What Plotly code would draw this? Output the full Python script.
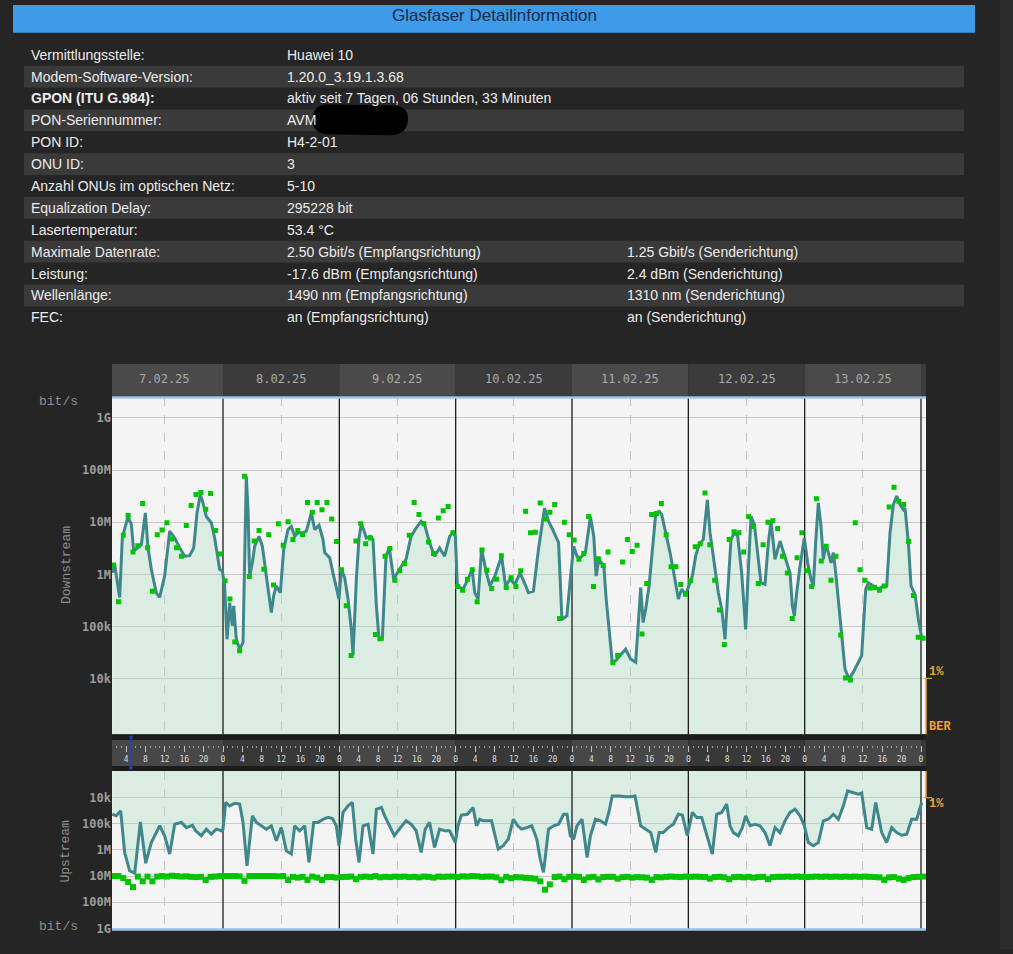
import plotly.graph_objects as go

#%% Data

info_labels = [
    "Vermittlungsstelle:", "Modem-Software-Version:", "<b>GPON (ITU G.984):</b>",
    "PON-Seriennummer:", "PON ID:", "ONU ID:", "Anzahl ONUs im optischen Netz:",
    "Equalization Delay:", "Lasertemperatur:", "Maximale Datenrate:", "Leistung:",
    "Wellenlänge:", "FEC:",
]
info_rx = [
    "Huawei 10", "1.20.0_3.19.1.3.68", "aktiv seit 7 Tagen, 06 Stunden, 33 Minuten",
    "AVM", "H4-2-01", "3", "5-10", "295228 bit", "53.4 °C",
    "2.50 Gbit/s (Empfangsrichtung)", "-17.6 dBm (Empfangsrichtung)",
    "1490 nm (Empfangsrichtung)", "an (Empfangsrichtung)",
]
info_tx = [
    "", "", "", "", "", "", "", "", "",
    "1.25 Gbit/s (Senderichtung)", "2.4 dBm (Senderichtung)",
    "1310 nm (Senderichtung)", "an (Senderichtung)",
]

day_labels = ["7.02.25", "8.02.25", "9.02.25", "10.02.25", "11.02.25", "12.02.25", "13.02.25"]
day_starts = [0, 24, 48, 72, 96, 120, 144]   # hours since 7.02.25 00:00
view_start, view_end = 1.1, 169.03

rate_tickvals = [1e4, 1e5, 1e6, 1e7, 1e8, 1e9]
rate_ticktext = ["10k", "100k", "1M", "10M", "100M", "1G"]

# hourly samples (peak values, green squares), first one at 01:26
sample_start = 1.43

# downstream average (teal line): hour, log10(bit/s)
ds_line_hours = [
    1.17, 1.65, 2.68, 3.23, 4.40, 5.09, 5.57, 6.46, 7.15, 7.98, 8.53, 9.21, 10.24, 10.93,
    11.96, 13.00, 14.03, 15.06, 16.09, 17.12, 17.95, 18.64, 19.32, 19.87, 20.56, 21.59,
    22.28, 22.76, 23.31, 23.86, 24.34, 24.83, 25.38, 25.93, 26.20, 26.75, 27.44, 28.13,
    28.47, 28.81, 29.16, 29.50, 30.05, 30.53, 31.43, 32.12, 32.94, 33.97, 34.45, 35.00,
    35.83, 36.52, 37.41, 38.10, 38.79, 39.47, 40.51, 41.19, 42.23, 42.91, 43.81, 44.63,
    44.98, 46.01, 46.83, 47.38, 47.93, 48.42, 49.10, 49.79, 50.48, 50.82, 51.51, 52.06,
    52.54, 53.02, 53.57, 54.40, 54.95, 55.64, 56.19, 56.87, 57.62, 58.31, 59.21, 60.38,
    61.76, 62.80, 63.84, 64.88, 65.57, 66.61, 67.64, 68.68, 69.72, 70.76, 71.45, 71.93,
    72.35, 73.52, 74.56, 75.39, 75.94, 76.63, 77.33, 78.36, 79.05, 80.09, 81.47, 82.30,
    83.20, 84.24, 85.28, 86.32, 87.01, 88.04, 89.08, 90.33, 91.16, 91.85, 92.89, 93.23,
    93.92, 94.96, 95.65, 96.34, 97.03, 97.73, 98.76, 99.80, 100.49, 100.98, 101.53,
    102.08, 102.57, 103.05, 103.60, 104.30, 104.99, 106.02, 107.06, 108.10, 109.14,
    109.69, 110.17, 110.66, 111.21, 111.90, 112.60, 113.29, 113.98, 114.50, 115.19,
    116.22, 117.11, 117.94, 118.62, 119.45, 120.00, 120.83, 121.51, 122.20, 123.09,
    123.92, 124.47, 125.36, 126.19, 126.88, 127.57, 128.12, 128.80, 129.49, 130.18,
    131.00, 131.83, 132.38, 132.93, 133.62, 134.44, 134.99, 135.82, 136.51, 137.06,
    137.88, 138.91, 139.60, 140.50, 140.98, 141.46, 141.87, 142.35, 143.04, 143.93,
    144.62, 145.30, 145.79, 146.27, 146.82, 147.37, 147.85, 148.34, 148.89, 149.44,
    149.92, 150.40, 150.95, 151.64, 152.32, 153.15, 154.04, 155.08, 155.76, 156.59,
    157.14, 158.17, 159.20, 160.23, 160.92, 161.61, 162.30, 162.98, 163.67, 164.36,
    164.70, 165.39, 165.94, 166.77, 167.46, 168.14,
]
ds_line_exp = [
    6.03, 6.19, 5.56, 6.70, 7.11, 6.96, 6.45, 6.51, 6.57, 7.18, 6.51, 6.10, 5.65, 5.56,
    5.97, 6.83, 6.70, 6.51, 6.35, 6.36, 6.51, 7.18, 7.53, 7.37, 7.11, 6.99,
    6.70, 6.42, 6.10, 6.07, 5.78, 4.76, 5.46, 5.02, 5.40, 4.76, 4.57, 4.70,
    6.22, 7.88, 7.24, 5.97, 6.22, 6.54, 6.73, 6.54, 5.97, 5.27, 5.59, 5.78,
    5.65, 6.48, 6.86, 6.92, 6.73, 6.80, 6.80, 6.83, 7.18, 6.86, 6.94, 6.67,
    6.42, 6.32, 5.97, 5.72, 5.53, 6.10, 5.94, 5.53, 4.95, 4.45, 5.91, 6.70,
    6.96, 6.86, 6.70, 6.73, 6.67, 5.40, 4.76, 4.76, 6.35, 6.51, 5.91, 6.10,
    6.29, 6.73, 6.89, 7.02, 6.96, 6.61, 6.35, 6.51, 6.35, 6.73, 6.81, 6.73,
    5.78, 5.72, 5.91, 6.10, 5.65, 5.53, 6.48, 6.03, 5.78, 5.97, 6.35, 5.78,
    5.91, 5.81, 6.03, 5.81, 5.65, 5.68, 6.48, 7.27, 7.02, 6.89, 6.67, 6.61,
    5.14, 5.21, 5.91, 6.54, 6.35, 6.32, 6.42, 7.11, 6.73, 5.97, 6.29,
    6.22, 6.16, 5.53, 5.02, 4.32, 4.35, 4.45, 4.57, 4.38, 4.32,
    5.08, 5.75, 5.08, 5.34, 5.78, 6.48, 7.18, 7.21, 7.15, 6.86,
    6.42, 5.97, 5.53, 5.72, 5.62, 5.75, 5.97, 6.35, 6.57, 6.67,
    7.43, 6.80, 6.16, 5.65, 5.34, 4.76, 5.65, 6.67, 6.80, 6.73,
    6.03, 4.95, 6.10, 7.11, 6.96, 6.22, 5.84, 5.81, 6.61, 7.02,
    6.29, 6.64, 6.45, 6.16, 6.03, 5.40, 5.21, 5.65, 6.16, 6.70,
    6.22, 5.91, 5.78, 6.61, 7.37, 6.92, 6.29, 6.57, 6.42, 6.22,
    6.42, 6.03, 5.53, 4.83, 4.19, 4.00, 4.13, 4.32, 4.45, 5.72,
    5.84, 5.78, 5.72, 5.78, 5.78, 6.80, 7.34, 7.50, 7.34, 7.24,
    7.27, 6.61, 5.78, 5.62, 5.14, 4.80,
]
# downstream peak per hour (green squares), log10(bit/s)
ds_peak_exp = [
    6.18, 5.48, 6.75, 7.13, 6.43, 6.55, 7.36, 6.51, 5.68, 6.76,
    6.85, 6.99, 6.68, 6.51, 6.35, 6.94, 7.32, 7.53, 7.57, 7.25,
    7.55, 6.84, 6.39, 5.88, 5.53, 4.71, 4.54, 7.88, 5.96, 6.64,
    6.84, 6.10, 6.76, 5.80, 6.97, 6.56, 7.01, 6.67, 6.84, 6.76,
    7.38, 7.19, 7.38, 7.24, 7.38, 7.06, 6.63, 6.09, 5.40, 4.45,
    6.64, 6.97, 6.59, 6.70, 4.85, 4.77, 6.35, 6.50, 5.89, 6.07,
    6.21, 6.75, 7.38, 7.15, 6.97, 6.62, 6.40, 7.08, 7.22, 7.30,
    6.80, 5.77, 5.70, 5.91, 6.09, 5.48, 6.47, 6.08, 5.73, 5.91,
    6.36, 5.75, 5.94, 5.77, 6.07, 7.21, 6.80, 6.81, 7.37, 7.06,
    7.19, 7.34, 5.16, 7.00, 6.76, 6.66, 6.29, 6.40, 7.11, 5.77,
    6.30, 6.17, 6.43, 4.31, 4.45, 6.24, 6.67, 6.44, 6.56, 4.86,
    5.83, 7.15, 7.17, 7.36, 6.76, 6.15, 6.15, 5.81, 5.62, 5.88,
    6.53, 6.59, 7.56, 6.57, 5.89, 5.32, 4.66, 6.67, 6.82, 6.80,
    6.43, 7.11, 6.92, 5.83, 6.57, 7.00, 7.03, 6.88, 6.35, 6.03,
    5.16, 6.32, 6.80, 6.07, 5.77, 7.45, 6.26, 6.54, 5.89, 6.35,
    4.84, 4.02, 3.98, 6.99, 6.09, 5.89, 5.74, 5.75, 5.70, 5.78,
    7.29, 7.67, 7.40, 7.34, 6.63, 5.60, 4.80, 4.78,
]

# upstream average (teal line): hour, log10(bit/s)
us_line_hours = [
    1.17, 1.99, 2.89, 3.71, 4.74, 5.78, 6.95, 8.05, 9.21, 10.93, 11.96, 13.00, 14.03,
    15.41, 16.44, 17.68, 18.36, 19.53, 20.56, 21.59, 22.62, 23.66, 24.00, 24.55, 25.38,
    26.41, 27.44, 28.13, 28.95, 30.05, 30.88, 31.91, 32.94, 33.97, 35.00, 36.03, 37.07,
    38.10, 38.79, 39.82, 40.85, 41.74, 42.71, 43.60, 44.63, 45.66, 46.56, 47.38, 47.93,
    48.76, 49.79, 50.68, 51.37, 52.06, 52.89, 53.92, 54.95, 55.64, 56.67, 57.36, 58.31,
    59.34, 60.38, 61.76, 62.80, 63.84, 64.88, 65.71, 66.61, 67.64, 68.68, 69.72, 70.76,
    71.93, 72.48, 73.18, 74.42, 75.60, 76.29, 76.98, 77.67, 78.36, 79.40, 80.78, 81.82,
    82.86, 83.89, 84.79, 85.62, 86.66, 87.70, 88.74, 89.43, 90.12, 91.16, 92.19, 93.23,
    94.27, 94.96, 95.65, 96.34, 97.03, 98.07, 99.11, 99.80, 100.84, 101.88, 102.91,
    103.60, 104.30, 105.68, 107.06, 108.10, 109.00, 110.17, 111.21, 112.25, 113.29,
    113.98, 114.84, 115.87, 116.91, 117.94, 118.76, 119.79, 120.83, 121.72, 122.75,
    123.78, 124.95, 125.85, 126.88, 127.91, 128.60, 129.28, 130.32, 131.14, 131.83,
    132.72, 133.76, 134.79, 135.82, 136.85, 137.88, 138.91, 139.94, 140.98, 142.01,
    143.04, 143.93, 144.76, 145.79, 146.82, 147.85, 148.89, 149.92, 150.95, 151.98,
    152.87, 154.04, 155.08, 155.76, 156.80, 157.83, 158.65, 159.89, 160.92, 161.95,
    162.98, 164.02, 165.05, 166.08, 167.11, 168.14,
]
us_line_exp = [
    4.64, 4.70, 4.51, 6.10, 6.80, 6.89, 4.93, 6.51, 5.72, 5.08, 5.46, 6.16, 5.02,
    4.95, 5.15, 5.06, 5.27, 5.46, 5.21, 5.40, 5.21, 5.27, 5.21, 4.19, 4.32,
    4.22, 4.25, 4.95, 6.61, 4.70, 4.95, 5.08, 5.21, 5.08, 5.65, 5.15, 6.04,
    6.16, 5.08, 5.27, 5.08, 6.48, 4.95, 4.95, 4.83, 4.76, 4.80, 5.08, 5.84,
    4.57, 4.32, 4.19, 5.59, 6.48, 5.08, 5.02, 6.16, 4.45, 4.38, 4.70, 5.08,
    5.46, 5.21, 4.89, 5.02, 5.27, 6.10, 5.21, 4.95, 5.91, 5.21, 5.27, 5.27,
    5.72, 5.08, 4.67, 4.64, 4.38, 5.08, 4.83, 4.89, 4.89, 4.89, 5.97, 5.84,
    5.59, 4.83, 5.08, 5.21, 5.15, 5.08, 5.59, 6.35, 6.86, 5.21, 5.08, 5.02,
    4.64, 4.64, 5.46, 5.59, 5.08, 4.83, 6.29, 5.46, 4.83, 4.89, 5.02,
    4.57, 3.94, 3.94, 3.97, 3.97, 3.94, 5.08, 5.21, 5.34, 6.10,
    5.34, 5.34, 5.15, 5.02, 4.64, 4.67, 5.46, 4.57, 4.76, 4.76,
    5.46, 6.16, 4.64, 4.57, 4.25, 5.08, 5.34, 5.46, 5.15, 4.70,
    5.08, 5.02, 5.08, 5.34, 5.84, 5.15, 5.34, 4.89, 4.57, 4.45,
    4.70, 5.08, 5.72, 5.84, 5.72, 4.89, 4.83, 4.64, 4.83, 4.32,
    3.75, 3.81, 3.87, 3.83, 5.15, 5.21, 4.19, 5.34, 5.72, 5.15,
    5.34, 5.44, 5.40, 4.83, 4.83, 4.19,
]
# upstream peak per hour (green squares), log10(bit/s)
us_peak_exp = [
    7.00, 7.00, 7.08, 7.23, 7.42, 7.02, 7.20, 7.02, 7.20, 7.02,
    7.00, 7.02, 6.99, 7.00, 7.02, 7.01, 7.03, 7.04, 7.03, 7.15,
    7.03, 7.02, 7.00, 7.00, 7.00, 7.00, 7.01, 7.18, 7.00, 7.00,
    7.00, 7.00, 7.00, 7.00, 7.01, 7.00, 7.15, 7.03, 7.06, 7.03,
    7.15, 7.02, 7.06, 7.15, 7.04, 7.04, 7.06, 7.04, 7.03, 7.02,
    7.12, 7.03, 7.02, 7.04, 7.00, 7.05, 7.03, 7.04, 7.02, 7.03,
    7.02, 7.04, 7.03, 7.05, 7.02, 7.03, 7.06, 7.02, 7.03, 7.02,
    7.02, 7.04, 7.01, 7.02, 7.00, 7.01, 7.03, 7.02, 7.02, 7.05,
    7.16, 7.03, 7.08, 7.04, 7.05, 7.07, 7.08, 7.10, 7.20, 7.52,
    7.32, 7.04, 7.02, 7.12, 7.03, 7.02, 7.03, 7.15, 7.05, 7.03,
    7.13, 7.04, 7.03, 7.03, 7.10, 7.04, 7.03, 7.06, 7.04, 7.05,
    7.06, 7.15, 7.04, 7.05, 7.03, 7.02, 7.03, 7.04, 7.02, 7.03,
    7.02, 7.03, 7.04, 7.10, 7.04, 7.03, 7.05, 7.12, 7.04, 7.03,
    7.05, 7.03, 7.06, 7.04, 7.03, 7.12, 7.04, 7.03, 7.03, 7.02,
    7.03, 7.02, 7.03, 7.04, 7.03, 7.02, 7.03, 7.02, 7.03, 7.02,
    7.03, 7.02, 7.03, 7.02, 7.03, 7.02, 7.03, 7.04, 7.05, 7.15,
    7.05, 7.04, 7.10, 7.15, 7.08, 7.04, 7.03, 7.02,
]

#%% Styling

W, H = 1013, 954
PAGE_BG = "#252525"
ROW_BG = "#3a3a3a"
PLOT_BG = "#f4f4f4"
FILL = "rgba(168,222,192,0.32)"
TEAL = "#3e878a"
GREEN = "#00c400"
ORANGE = "#e9a33a"
MONO = "DejaVu Sans Mono"
COURIER = "Liberation Mono"
SANS = "Liberation Sans"


def fx(px):
    return px / W


def fy(py):
    return 1 - py / H


def rect(x0, y0, x1, y1, color, xref="paper"):
    return dict(type="rect", xref=xref, yref="paper", x0=x0, x1=x1,
                y0=fy(y1), y1=fy(y0), fillcolor=color, line=dict(width=0), layer="below")


def label(text, x, py, font, xref="paper", xanchor="center", angle=0):
    return dict(text=text, x=x, y=fy(py), xref=xref, yref="paper", xanchor=xanchor,
                yanchor="middle", textangle=angle, showarrow=False, font=font)


sample_hours = [sample_start + k for k in range(len(ds_peak_exp))]
to_rate = lambda exps: [10 ** e for e in exps]
day_ends = [d + 24 for d in day_starts]
mid_x, mid_y = [], []
for d in day_ends:
    mid_x += [d, d, None]
    mid_y += [1, 1e11, None]

fig = go.Figure()

for line_h, line_e, peak_e, xa, ya, msize in [
    (ds_line_hours, ds_line_exp, ds_peak_exp, "x", "y", 5),
    (us_line_hours, us_line_exp, us_peak_exp, "x2", "y2", 6),
]:
    common = dict(xaxis=xa, yaxis=ya, showlegend=False, hoverinfo="skip")
    fig.add_trace(go.Scatter(x=[line_h[0], line_h[-1]], y=[1, 1], mode="lines",
                             line=dict(width=0), **common))
    fig.add_trace(go.Scatter(x=line_h, y=to_rate(line_e), mode="lines", line=dict(width=0),
                             fill="tonexty", fillcolor=FILL, **common))
    fig.add_trace(go.Scatter(x=mid_x, y=mid_y, mode="lines",
                             line=dict(color="#1c1c1c", width=1.3), **common))
    fig.add_trace(go.Scatter(x=line_h, y=to_rate(line_e), mode="lines",
                             line=dict(color=TEAL, width=3), **common))
    fig.add_trace(go.Scatter(x=sample_hours, y=to_rate(peak_e), mode="markers",
                             marker=dict(symbol="square", size=msize, color=GREEN,
                                         line=dict(width=0)), **common))

# hour ruler between the two panels
fig.add_trace(go.Scatter(x=[view_start], y=[0.5], mode="markers", marker=dict(opacity=0),
                         xaxis="x3", yaxis="y3", showlegend=False, hoverinfo="skip"))

#%% Page decoration: header, table, panel backgrounds

shapes = [
    rect(1000 / W, 0, 1, H, "#2c2c2c"),
    rect(fx(13), 5, fx(975), 33, "#3d9be9"),
]
annotations = [
    label("Glasfaser Detailinformation", fx(494), 16,
          dict(family=SANS, size=17, color="#1b2a44")),
]

for i, (lab, rx, tx) in enumerate(zip(info_labels, info_rx, info_tx)):
    top = 44 + 22 * i
    if i % 2 == 1:
        shapes.append(rect(fx(24), top, fx(964), top + 22, ROW_BG))
    for text, px in [(lab, 29), (rx, 285), (tx, 625)]:
        if text:
            annotations.append(label(text, fx(px), top + 11,
                                     dict(family=SANS, size=14, color="#ececec"),
                                     xanchor="left"))

# redacted serial number
shapes.append(dict(type="path", xref="paper", yref="paper", fillcolor="#000000",
                   line=dict(width=0), layer="above",
                   path=f"M {fx(326)},{fy(105)} L {fx(396)},{fy(106)} "
                        f"Q {fx(409)},{fy(108)} {fx(408)},{fy(121)} "
                        f"Q {fx(407)},{fy(135)} {fx(392)},{fy(136)} "
                        f"L {fx(326)},{fy(135)} Q {fx(312)},{fy(133)} {fx(312)},{fy(120)} "
                        f"Q {fx(313)},{fy(106)} {fx(326)},{fy(105)} Z"))

# panel backgrounds, date header, ruler bands
shapes += [
    rect(fx(112), 399, fx(926), 738, PLOT_BG),
    rect(fx(112), 775, fx(926), 935, PLOT_BG),
    rect(fx(112), 738, fx(926), 775, "#1c1c1c"),
]
cell_bounds = [(max(s, view_start), min(e, view_end)) for s, e in zip(day_starts, day_ends)]
cell_bounds.append((day_ends[-1], view_end))
for i, (c0, c1) in enumerate(cell_bounds):
    shade = "#4a4a4a" if i % 2 == 0 else "#3b3b3b"
    shapes.append(dict(rect(c0, 366, c1, 398, shade), xref="x"))
    shapes.append(dict(rect(c0, 744, c1, 770, "#474747" if i % 2 == 0 else "#383838"), xref="x"))
for lab, s in zip(day_labels, day_starts):
    annotations.append(label(lab, s + 12, 381, dict(family=MONO, size=12, color="#a9a9a9"),
                             xref="x"))

# light-blue frame lines, ruler handle
for py in (399.5, 934.5):
    shapes.append(dict(type="line", xref="paper", yref="paper", x0=fx(112), x1=fx(926),
                       y0=fy(py), y1=fy(py), line=dict(color="#a2c6ef", width=2.5), layer="above"))
shapes.append(dict(type="line", xref="paper", yref="paper", x0=fx(131), x1=fx(131),
                   y0=fy(741), y1=fy(772), line=dict(color="#1f43c4", width=1.5), layer="above"))
for py in (741, 772):
    shapes.append(dict(type="rect", xref="paper", yref="paper", x0=fx(129.5), x1=fx(132.5),
                       y0=fy(py + 1.5), y1=fy(py - 1.5), fillcolor="#1f43c4",
                       line=dict(width=0), layer="above"))

# BER scale on the right
for y0, y1, ytick in [(682, 738, 682), (775, 802, 802)]:
    shapes.append(dict(type="line", xref="paper", yref="paper", x0=fx(926), x1=fx(926),
                       y0=fy(y0), y1=fy(y1), line=dict(color=ORANGE, width=1.5), layer="above"))
    shapes.append(dict(type="line", xref="paper", yref="paper", x0=fx(924), x1=fx(932),
                       y0=fy(ytick), y1=fy(ytick), line=dict(color=ORANGE, width=1.2),
                       layer="above"))
for text, py in [("1%", 676), ("BER", 731), ("1%", 808)]:
    annotations.append(label(f"<b>{text}</b>", fx(927), py,
                             dict(family=COURIER, size=12, color=ORANGE), xanchor="left"))

# axis captions
for text, px, py, angle in [("bit/s", 58, 404, 0), ("bit/s", 58, 931, 0),
                            ("Downstream", 66, 568, -90), ("Upstream", 66, 856, -90)]:
    annotations.append(label(text, fx(px), py, dict(family=COURIER, size=13, color="#8e8e8e"),
                             angle=angle))

#%% Axes

noon_hours = [s + 12 for s in day_starts]
hour_ticks = [h for h in range(2, 169) if h % 4 == 0]
x_common = dict(domain=[fx(112), fx(926)], range=[view_start, view_end], showticklabels=False,
                ticks="", tickvals=noon_hours, showgrid=True, gridcolor="#c6c6c6",
                griddash="dash", gridwidth=1, zeroline=False, showline=False, fixedrange=True)
y_common = dict(type="log", tickvals=rate_tickvals, ticktext=rate_ticktext, showgrid=True,
                gridcolor="#c9c9c9", gridwidth=1, zeroline=False, ticks="", showline=False,
                tickfont=dict(family=MONO, size=12, color="#9c9c9c", weight="bold"),
                fixedrange=True)

fig.update_layout(
    width=W, height=H, autosize=False,
    margin=dict(l=0, r=0, t=0, b=0, pad=0),
    paper_bgcolor=PAGE_BG, plot_bgcolor="rgba(0,0,0,0)",
    showlegend=False,
    xaxis=dict(x_common, anchor="y"),
    xaxis2=dict(x_common, anchor="y2"),
    xaxis3=dict(domain=[fx(112), fx(926)], range=[view_start, view_end], anchor="y3",
                tickvals=hour_ticks, ticktext=[str(h % 24) for h in hour_ticks],
                ticks="outside", ticklen=6, tickwidth=1, tickcolor="#c4c4c4",
                minor=dict(ticks="outside", ticklen=2, tickwidth=1, tickcolor="#9a9a9a",
                           tickmode="array", tickvals=list(range(2, 169)), showgrid=False),
                tickfont=dict(family=MONO, size=8, color="#dcdcdc"),
                showgrid=False, zeroline=False, showline=False, fixedrange=True),
    yaxis=dict(y_common, domain=[fy(738), fy(399.5)], range=[2.944, 9.39], anchor="x"),
    yaxis2=dict(y_common, domain=[fy(935), fy(775)], range=[9.065, 2.985], anchor="x2"),
    yaxis3=dict(domain=[fy(749), fy(746)], range=[0, 1], visible=False, anchor="x3",
                fixedrange=True),
    shapes=shapes,
    annotations=annotations,
)

fig.write_html("out.html", config={"displayModeBar": False},
               post_script="document.body.style.margin='0';document.body.style.overflow='hidden';")
